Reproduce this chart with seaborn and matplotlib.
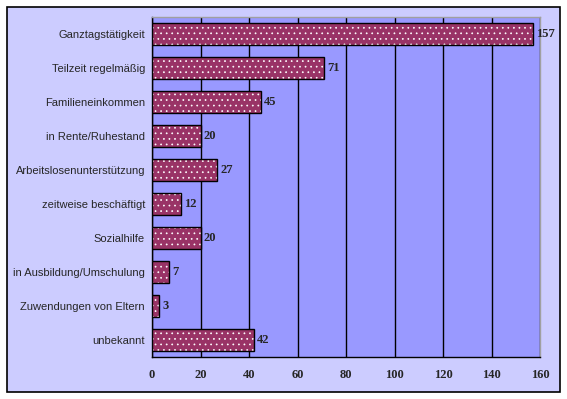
import matplotlib
matplotlib.use("Agg")
import matplotlib.pyplot as plt
import seaborn as sns
import pandas as pd
from matplotlib.patches import Rectangle

# chart data
categories = [
    "Ganztagstätigkeit",
    "Teilzeit regelmäßig",
    "Familieneinkommen",
    "in Rente/Ruhestand",
    "Arbeitslosenunterstützung",
    "zeitweise beschäftigt",
    "Sozialhilfe",
    "in Ausbildung/Umschulung",
    "Zuwendungen von Eltern",
    "unbekannt",
]
values = [157, 71, 45, 20, 27, 12, 20, 7, 3, 42]
x_ticks = [0, 20, 40, 60, 80, 100, 120, 140, 160]

df = pd.DataFrame({"Kategorie": categories, "Anzahl": values})

sns.set_style("white")
plt.rcParams["font.family"] = ["Liberation Sans", "DejaVu Sans"]
plt.rcParams["hatch.linewidth"] = 0.5

fig = plt.figure(figsize=(5.67, 3.99), dpi=100, facecolor="white")
# lavender chart area with black frame
fig.patches.append(Rectangle((7 / 567, 7 / 399), 553 / 567, 385 / 399,
                             transform=fig.transFigure, facecolor="#CCCCFF",
                             edgecolor="black", linewidth=1.2, zorder=-10))

ax = fig.add_axes([152 / 567, 1 - 357 / 399, 388 / 567, 340 / 399])
ax.set_facecolor("#9999FF")

# bars with white dotted pattern
sns.barplot(data=df, x="Anzahl", y="Kategorie", orient="h", ax=ax,
            color="#993366", saturation=1, width=0.62,
            edgecolor="white", linewidth=0, hatch="...", zorder=3)
# black outline on top
sns.barplot(data=df, x="Anzahl", y="Kategorie", orient="h", ax=ax,
            fill=False, width=0.62, edgecolor="black", linewidth=1.0,
            zorder=4)

for i, v in enumerate(values):
    ax.text(v + 1.2, i, str(v), va="center", ha="left", fontsize=9,
            fontweight="bold", family="Liberation Serif", zorder=5)

ax.set_xlim(0, 160)
ax.set_ylim(len(categories) - 0.5, -0.5)
ax.set_xticks(x_ticks)
ax.set_xticklabels([str(t) for t in x_ticks], fontsize=9, fontweight="bold",
                   family="Liberation Serif")
ax.set_yticks(range(len(categories)))
ax.set_yticklabels(categories, fontsize=8)
ax.set_yticks([i + 0.5 for i in range(-1, len(categories))], minor=True)
ax.tick_params(axis="y", which="major", length=0, pad=5)
ax.tick_params(axis="y", which="minor", length=4, width=1, color="black",
               direction="out")
ax.tick_params(axis="x", length=4, width=1, color="black", direction="out",
               pad=5)
ax.set_xlabel("")
ax.set_ylabel("")

ax.grid(axis="x", color="black", linewidth=1, zorder=1)
ax.set_axisbelow(True)
for s in ["top", "right"]:
    ax.spines[s].set_color("#A0A0A0")
    ax.spines[s].set_linewidth(1)
for s in ["left", "bottom"]:
    ax.spines[s].set_color("black")
    ax.spines[s].set_linewidth(1)

fig.savefig("out.png", dpi=100, facecolor="white")
